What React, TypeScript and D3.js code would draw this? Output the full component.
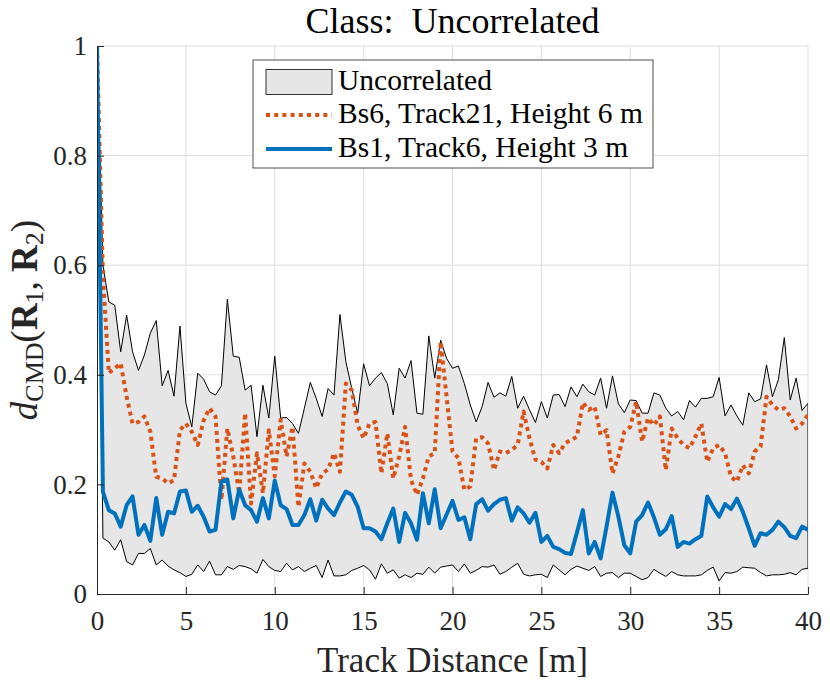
import * as d3 from 'd3';
import { useEffect, useRef } from 'react';

// sample spacing along the track is 1/3 m (121 samples, 0..40 m)
const distances = d3.range(121).map((k) => k / 3);

// upper / lower envelope of the "Uncorrelated" class
const upperBound = [
  1, 0.6, 0.533, 0.527, 0.442, 0.509, 0.442, 0.408, 0.436, 0.476, 0.499, 0.38, 0.408, 0.361, 0.489, 0.348,
  0.305, 0.403, 0.392, 0.369, 0.363, 0.38, 0.538, 0.434, 0.432, 0.372, 0.381, 0.287, 0.381, 0.321, 0.434,
  0.321, 0.322, 0.311, 0.293, 0.339, 0.386, 0.357, 0.324, 0.375, 0.363, 0.51, 0.424, 0.375, 0.33, 0.42,
  0.38, 0.394, 0.404, 0.384, 0.327, 0.412, 0.394, 0.426, 0.33, 0.328, 0.471, 0.394, 0.463, 0.43, 0.412,
  0.416, 0.384, 0.345, 0.314, 0.342, 0.386, 0.359, 0.367, 0.361, 0.397, 0.339, 0.361, 0.336, 0.313, 0.351,
  0.321, 0.363, 0.364, 0.342, 0.378, 0.36, 0.383, 0.369, 0.363, 0.394, 0.339, 0.398, 0.347, 0.331, 0.354,
  0.353, 0.33, 0.33, 0.367, 0.363, 0.339, 0.325, 0.333, 0.318, 0.353, 0.341, 0.357, 0.357, 0.36, 0.395,
  0.325, 0.345, 0.325, 0.308, 0.367, 0.351, 0.356, 0.418, 0.36, 0.391, 0.468, 0.354, 0.394, 0.335, 0.348,
];
const lowerBound = [
  1, 0.102, 0.095, 0.08, 0.099, 0.059, 0.053, 0.074, 0.074, 0.083, 0.053, 0.062, 0.051, 0.044, 0.039, 0.032,
  0.036, 0.053, 0.041, 0.06, 0.035, 0.035, 0.05, 0.045, 0.052, 0.05, 0.046, 0.038, 0.063, 0.05, 0.043,
  0.041, 0.056, 0.044, 0.05, 0.041, 0.047, 0.052, 0.03, 0.062, 0.033, 0.033, 0.035, 0.043, 0.047, 0.052,
  0.044, 0.027, 0.055, 0.038, 0.044, 0.029, 0.035, 0.03, 0.038, 0.036, 0.049, 0.038, 0.049, 0.051, 0.053,
  0.041, 0.055, 0.038, 0.043, 0.05, 0.049, 0.053, 0.036, 0.041, 0.049, 0.056, 0.036, 0.033, 0.035, 0.036,
  0.03, 0.053, 0.044, 0.035, 0.045, 0.051, 0.047, 0.043, 0.05, 0.032, 0.038, 0.039, 0.03, 0.038, 0.038,
  0.032, 0.026, 0.03, 0.045, 0.038, 0.032, 0.041, 0.035, 0.033, 0.033, 0.033, 0.035, 0.043, 0.049, 0.024,
  0.039, 0.038, 0.041, 0.049, 0.048, 0.047, 0.039, 0.033, 0.035, 0.035, 0.036, 0.039, 0.035, 0.045, 0.047,
];
// Bs6, Track21, Height 6 m
const bs6Track21 = [
  1, 0.58, 0.403, 0.412, 0.421, 0.36, 0.311, 0.314, 0.324, 0.296, 0.214, 0.211, 0.202, 0.208, 0.299, 0.311,
  0.296, 0.272, 0.317, 0.339, 0.324, 0.172, 0.302, 0.251, 0.184, 0.33, 0.165, 0.257, 0.184, 0.299, 0.215,
  0.318, 0.251, 0.305, 0.159, 0.238, 0.223, 0.193, 0.22, 0.227, 0.257, 0.223, 0.384, 0.372, 0.308, 0.284,
  0.311, 0.314, 0.22, 0.293, 0.211, 0.251, 0.305, 0.208, 0.181, 0.211, 0.251, 0.257, 0.46, 0.36, 0.26,
  0.248, 0.19, 0.196, 0.284, 0.286, 0.275, 0.226, 0.26, 0.257, 0.263, 0.272, 0.333, 0.284, 0.245, 0.241,
  0.229, 0.272, 0.257, 0.275, 0.281, 0.287, 0.349, 0.336, 0.342, 0.29, 0.299, 0.22, 0.251, 0.296, 0.305,
  0.351, 0.278, 0.321, 0.308, 0.324, 0.226, 0.302, 0.284, 0.272, 0.266, 0.287, 0.311, 0.241, 0.266, 0.272,
  0.257, 0.214, 0.205, 0.235, 0.22, 0.26, 0.269, 0.36, 0.345, 0.336, 0.339, 0.324, 0.302, 0.311, 0.327,
];
// Bs1, Track6, Height 3 m
const bs1Track6 = [
  1, 0.187, 0.153, 0.147, 0.123, 0.162, 0.178, 0.108, 0.126, 0.097, 0.175, 0.108, 0.15, 0.147, 0.187, 0.189,
  0.15, 0.161, 0.141, 0.114, 0.117, 0.205, 0.209, 0.138, 0.191, 0.162, 0.153, 0.132, 0.175, 0.138, 0.207,
  0.162, 0.155, 0.126, 0.126, 0.144, 0.173, 0.134, 0.172, 0.156, 0.144, 0.167, 0.187, 0.181, 0.159, 0.12,
  0.12, 0.114, 0.1, 0.129, 0.156, 0.095, 0.148, 0.129, 0.099, 0.184, 0.129, 0.191, 0.12, 0.145, 0.17,
  0.135, 0.14, 0.1, 0.164, 0.173, 0.152, 0.164, 0.172, 0.175, 0.134, 0.158, 0.147, 0.13, 0.148, 0.095,
  0.106, 0.086, 0.082, 0.075, 0.073, 0.112, 0.153, 0.074, 0.095, 0.065, 0.123, 0.185, 0.141, 0.089, 0.074,
  0.132, 0.144, 0.167, 0.14, 0.108, 0.118, 0.142, 0.086, 0.095, 0.092, 0.1, 0.106, 0.178, 0.158, 0.141,
  0.164, 0.155, 0.174, 0.15, 0.12, 0.088, 0.111, 0.108, 0.117, 0.132, 0.122, 0.106, 0.102, 0.123, 0.117,
];

const xTicks = [0, 5, 10, 15, 20, 25, 30, 35, 40];
const yTicks = [0, 0.2, 0.4, 0.6, 0.8, 1];
const legendLabels = ['Uncorrelated', 'Bs6, Track21, Height 6 m', 'Bs1, Track6, Height 3 m'];

const FONT = 'Liberation Serif, Times New Roman, serif';
const AXIS = '#262626';
const ORANGE = '#D95319';
const BLUE = '#0072BD';
const serif = { fontFamily: FONT };

export default function App() {
  const xAxisRef = useRef<SVGGElement>(null);
  const yAxisRef = useRef<SVGGElement>(null);

  const margin = { top: 46, right: 22, bottom: 92, left: 97 };
  const W = 830,
    H = 686;
  const x = d3.scaleLinear().domain([0, 40]).range([margin.left, W - margin.right]);
  const y = d3.scaleLinear().domain([0, 1]).range([H - margin.bottom, margin.top]);

  useEffect(() => {
    if (!xAxisRef.current || !yAxisRef.current) return;
    const gx = d3.select(xAxisRef.current);
    gx.call(
      d3
        .axisBottom(x)
        .tickValues(xTicks)
        .tickSizeInner(-7)
        .tickSizeOuter(0)
        .tickPadding(17)
        .tickFormat((d) => String(d)),
    );
    gx.attr('font-size', 27);
    gx.selectAll('.domain, .tick line').attr('stroke', AXIS);
    gx.selectAll('text').attr('fill', AXIS).style('font-family', FONT);

    const gy = d3.select(yAxisRef.current);
    gy.call(
      d3
        .axisLeft(y)
        .tickValues(yTicks)
        .tickSizeInner(-7)
        .tickSizeOuter(0)
        .tickPadding(10)
        .tickFormat((d) => String(d)),
    );
    gy.attr('font-size', 27);
    gy.selectAll('.domain, .tick line').attr('stroke', AXIS);
    gy.selectAll('text').attr('fill', AXIS).style('font-family', FONT);
  }, []);

  const band = d3
    .area<number>()
    .x((_, i) => x(distances[i]))
    .y0((_, i) => y(lowerBound[i]))
    .y1((d) => y(d));
  const line = d3
    .line<number>()
    .x((_, i) => x(distances[i]))
    .y((d) => y(d));

  const [x0, x1] = x.range();
  const [y0, y1] = y.range();

  // legend box
  const lg = { x: 253, y: 60, w: 400, h: 108 };
  const rowY = [82, 115, 149];

  return (
    <svg width={W} height={H} style={{ position: 'absolute', left: 0, top: 0, background: '#fff' }}>
      <defs>
        <clipPath id="plot-clip">
          <rect x={x0} y={y1} width={x1 - x0} height={y0 - y1} />
        </clipPath>
      </defs>

      {/* grid */}
      <g stroke="#dfdfdf" strokeWidth={1}>
        {xTicks.slice(1).map((t) => (
          <line key={'gx' + t} x1={x(t)} x2={x(t)} y1={y0} y2={y1} />
        ))}
        {yTicks.slice(1).map((t) => (
          <line key={'gy' + t} x1={x0} x2={x1} y1={y(t)} y2={y(t)} />
        ))}
      </g>

      <g clipPath="url(#plot-clip)">
        <path d={band(upperBound) ?? ''} fill="#e6e6e6" stroke="#000" strokeWidth={1} />
        <path
          d={line(bs6Track21) ?? ''}
          fill="none"
          stroke={ORANGE}
          strokeWidth={4}
          strokeDasharray="4 4"
          strokeLinejoin="round"
        />
        <path d={line(bs1Track6) ?? ''} fill="none" stroke={BLUE} strokeWidth={4} strokeLinejoin="round" />
      </g>

      <g ref={xAxisRef} transform={`translate(0,${y0})`} />
      <g ref={yAxisRef} transform={`translate(${x0},0)`} />

      {/* title */}
      <text x={(x0 + x1) / 2} y={33} textAnchor="middle" fontSize={36} fill="#000" style={serif}>
        Class:{'\u00a0'} Uncorrelated
      </text>

      {/* x label */}
      <text x={(x0 + x1) / 2} y={672} textAnchor="middle" fontSize={35} fill={AXIS} style={serif}>
        Track Distance [m]
      </text>

      {/* y label */}
      <text
        transform={`translate(37,${(y0 + y1) / 2}) rotate(-90)`}
        textAnchor="middle"
        fontSize={37}
        fill={AXIS}
        style={serif}
      >
        <tspan fontStyle="italic">d</tspan>
        <tspan fontSize={26} dy={6}>
          CMD
        </tspan>
        <tspan dy={-6}>(</tspan>
        <tspan fontWeight="bold">R</tspan>
        <tspan fontSize={26} dy={6}>
          1
        </tspan>
        <tspan dy={-6}>, </tspan>
        <tspan fontWeight="bold">R</tspan>
        <tspan fontSize={26} dy={6}>
          2
        </tspan>
        <tspan dy={-6}>)</tspan>
      </text>

      {/* legend */}
      <g>
        <rect x={lg.x} y={lg.y} width={lg.w} height={lg.h} fill="#fff" stroke={AXIS} strokeWidth={0.8} />
        <rect x={266} y={rowY[0] - 12.5} width={66} height={25} fill="#e6e6e6" stroke="#333" strokeWidth={1} />
        <line
          x1={266}
          x2={332}
          y1={rowY[1]}
          y2={rowY[1]}
          stroke={ORANGE}
          strokeWidth={4}
          strokeDasharray="4 4.2"
        />
        <line x1={266} x2={332} y1={rowY[2]} y2={rowY[2]} stroke={BLUE} strokeWidth={4} />
        {legendLabels.map((l, i) => (
          <text key={l} x={338} y={rowY[i] + 7.5} fontSize={29.5} fill="#000" style={serif}>
            {l}
          </text>
        ))}
      </g>
    </svg>
  );
}
